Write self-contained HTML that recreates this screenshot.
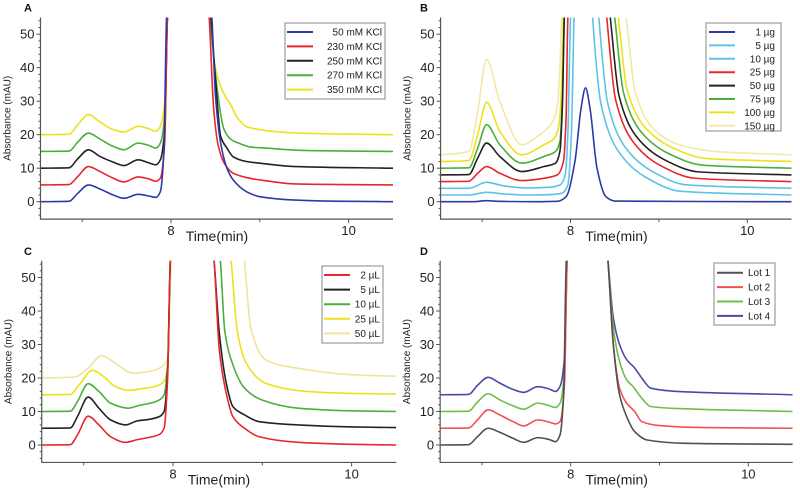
<!DOCTYPE html>
<html><head><meta charset="utf-8">
<style>
html,body{margin:0;padding:0;background:#fff;}
svg{display:block;font-family:"Liberation Sans",sans-serif;}
</style></head>
<body>
<svg id="chart" width="800" height="500" viewBox="0 0 800 500" xmlns="http://www.w3.org/2000/svg"></svg>
<script>
// ---------- Panel A ----------
const aLabels = ["50 mM KCl","230 mM KCl","250 mM KCl","270 mM KCl","350 mM KCl"];
const aColors = ["#2b3aa6","#e8262b","#222222","#4cae3c","#ece21c"];
const aTimes = [
 [6.53,6.85,6.95,7.07,7.2,7.35,7.47,7.63,7.75,7.83,7.88,7.92,7.95,8.2,8.46,8.5,8.56,8.63,8.7,8.85,9.0,9.4,10.0,10.5],
 [6.53,6.85,6.95,7.07,7.2,7.35,7.47,7.63,7.75,7.83,7.88,7.93,7.96,8.2,8.43,8.48,8.53,8.6,8.7,8.85,9.0,9.4,10.5],
 [6.53,6.85,6.95,7.07,7.2,7.35,7.47,7.63,7.75,7.83,7.88,7.93,7.96,8.2,8.45,8.5,8.56,8.63,8.7,8.85,9.0,9.4,10.5],
 [6.53,6.85,6.95,7.07,7.2,7.35,7.47,7.63,7.75,7.83,7.88,7.93,7.96,8.2,8.44,8.5,8.6,8.68,8.77,8.9,9.07,9.5,10.5],
 [6.53,6.85,6.95,7.07,7.2,7.35,7.47,7.63,7.75,7.83,7.88,7.93,7.96,8.2,8.44,8.5,8.6,8.67,8.75,8.85,9.0,9.14,9.5,10.5]
];
const aValues = [
 [0,0.1,2.5,5,3.8,2,1,2.2,1.7,1.3,3,15,55,120,55,32,17.4,10,6.5,3,1.5,0.5,0.1,0],
 [5,5.1,7.5,10.5,9,7,5.9,7.4,6.8,6.1,7,18,55,120,55,28,17,11.5,8.5,7.2,6.5,5.3,5],
 [10,10.1,12.8,15.5,13.5,11.8,10.8,12.5,11.6,11,12.5,22,55,120,55,37,19.4,16,13.4,12,11.5,10.5,10],
 [15,15.1,17.8,20.5,18.7,16.5,15.5,17.5,16.8,16,17.5,26,55,120,55,38,21.4,18.5,17.4,16.3,16,15.3,15],
 [20,20.1,23,26,23.8,21.5,20.8,22.5,21.8,21,22.5,30,55,120,55,40,32,29,25,22.4,21.5,21,20.4,20]
];
// ---------- Panel B ----------
const bLabels = ["1 µg","5 µg","10 µg","25 µg","50 µg","75 µg","100 µg","150 µg"];
const bColors = ["#2b3aa6","#5cc3e8","#5cc3e8","#e8262b","#222222","#4cae3c","#ece21c","#f3e8a8"];
const bTimes = [
 [6.53,6.9,7.05,7.2,7.6,7.85,7.95,8.05,8.12,8.17,8.22,8.3,8.4,8.5,10.5],
 [6.53,6.85,7.05,7.25,7.5,7.75,7.9,7.97,8.01,8.04,8.15,8.25,8.35,8.55,8.85,9.25,10.5],
 [6.53,6.85,7.05,7.25,7.5,7.75,7.88,7.94,7.97,8.0,8.15,8.32,8.42,8.62,8.92,9.32,10.5],
 [6.53,6.85,6.95,7.05,7.2,7.45,7.7,7.85,7.92,7.95,7.97,8.2,8.41,8.51,8.71,9.01,9.41,10.5],
 [6.53,6.85,6.95,7.05,7.2,7.45,7.7,7.83,7.88,7.91,7.93,8.2,8.45,8.55,8.75,9.05,9.45,10.5],
 [6.53,6.85,6.95,7.05,7.2,7.45,7.7,7.83,7.88,7.91,7.93,8.2,8.5,8.6,8.8,9.1,9.5,10.5],
 [6.53,6.85,6.95,7.05,7.2,7.45,7.7,7.82,7.87,7.9,7.92,8.2,8.54,8.64,8.84,9.14,9.54,10.5],
 [6.53,6.85,6.95,7.05,7.2,7.45,7.65,7.8,7.86,7.88,7.9,8.2,8.63,8.73,8.93,9.23,9.63,10.5]
];
const bValues = [
 [0,0,0.3,0.1,0,0.1,1.5,12,28,34,28,10,1.5,0.2,0],
 [2,2,2.8,2.3,2,2.1,2.5,5,20,55,120,55,28.5,14.7,7.3,3.1,2],
 [4,4,5.8,4.7,4.1,4.3,5,8,20,55,120,55,29.5,16.2,9.1,5,4],
 [6,6.1,8.5,10.5,8.5,6.3,7,8,12,25,55,120,55,30.5,17.8,10.9,7,6],
 [8,8.1,13,17.5,13.5,9,10.5,11.5,15,30,55,120,55,31.5,19.3,12.7,8.9,8],
 [10,10.1,16,23,17,11.5,13.5,15,18,32,55,120,55,32.5,20.8,14.5,10.9,10],
 [12,12.3,20,29.7,21,14,17,19,23,35,55,120,55,33.5,22.3,16.3,12.9,12],
 [14,15,27,42.5,30,17,20,24,30,40,55,120,55,33,22,17,15,14]
];
// ---------- Panel C ----------
const cLabels = ["2 µL","5 µL","10 µL","25 µL","50 µL"];
const cColors = ["#e8262b","#222222","#4cae3c","#ece21c","#efe3a0"];
const cTimes = [
 [6.53,6.85,6.93,7.05,7.17,7.3,7.47,7.6,7.72,7.85,7.9,7.94,7.97,8.2,8.46,8.52,8.6,8.67,8.8,8.96,9.4,10.0,10.5],
 [6.53,6.85,6.93,7.05,7.17,7.3,7.47,7.6,7.72,7.85,7.9,7.94,7.97,8.2,8.46,8.52,8.6,8.67,8.8,8.96,9.4,10.0,10.5],
 [6.53,6.85,6.93,7.05,7.17,7.3,7.5,7.62,7.75,7.85,7.9,7.94,7.97,8.2,8.53,8.58,8.67,8.8,9.0,9.4,10.0,10.5],
 [6.53,6.85,6.95,7.1,7.22,7.35,7.5,7.65,7.8,7.9,7.94,7.97,8.3,8.65,8.72,8.82,9.04,9.5,10.0,10.5],
 [6.53,6.9,7.05,7.2,7.35,7.55,7.75,7.88,7.94,7.98,8.4,8.8,8.87,9.04,9.4,10.0,10.5]
];
const cValues = [
 [0,0.1,3,8.6,6,2.5,0.8,1.6,2.2,3.2,5,20,55,120,55,28,15,8.5,5,2.5,0.8,0.2,0],
 [5,5.1,8.5,14.3,11,7.5,6,7.2,7.6,8.5,10,22,55,120,55,33,18,11.5,9,7,6,5.4,5.2],
 [10,10.1,13,18.3,16,12.5,11,11.8,12.5,13.5,15,24,55,120,55,34,24,17,13.4,11,10.2,10],
 [15,15.1,18,22.3,20.5,17.5,16.3,16.8,17.5,19,24,55,120,55,34,24.4,18.4,16,15.4,15.2],
 [20,20.3,23,26.7,24.5,21.5,22,23.5,26,55,120,55,35,25.4,22.9,21,20.5]
];
// ---------- Panel D ----------
const dLabels = ["Lot 1","Lot 2","Lot 3","Lot 4"];
const dColors = ["#505050","#f05050","#6cc04a","#4a4aa8"];
const dTimes = [
 [6.53,6.85,6.95,7.07,7.2,7.35,7.47,7.63,7.75,7.83,7.88,7.92,7.95,8.2,8.42,8.48,8.55,8.63,8.72,8.86,9.3,10.5],
 [6.53,6.85,6.95,7.07,7.2,7.35,7.47,7.63,7.75,7.83,7.88,7.93,7.96,8.2,8.42,8.48,8.55,8.63,8.72,8.8,9.0,9.5,10.5],
 [6.53,6.85,6.95,7.07,7.2,7.35,7.47,7.63,7.75,7.83,7.88,7.93,7.96,8.2,8.42,8.48,8.55,8.63,8.7,8.8,8.9,9.3,10.5],
 [6.53,6.85,6.95,7.07,7.2,7.35,7.47,7.63,7.75,7.83,7.88,7.93,7.96,8.2,8.42,8.48,8.55,8.63,8.72,8.8,8.9,9.2,10.5]
];
const dValues = [
 [0,0.1,2.5,5,3.8,2,0.8,2.2,1.7,1,3,15,55,120,55,30,15,8.5,4,1.5,0.5,0.2],
 [5,5.1,7.5,10.5,9,7,5.7,7.5,6.9,6.3,7,18,55,120,55,30,17,12.5,10,7,5.8,5.2,5],
 [10,10.1,12.8,15.3,13.5,11.7,10.7,12.5,11.8,11.2,12.5,22,55,120,55,35,25,19.5,17.5,14,11.5,10.8,10],
 [15,15.1,17.8,20.2,18.5,16.6,15.7,17.4,16.8,16,17.5,26,55,120,55,38,30,25.5,23,20,17,16,15]
];
const yTickLabels = ["0","10","20","30","40","50"];
const xTickLabels = ["8","10"];

const NS = "http://www.w3.org/2000/svg";
const svg = document.getElementById("chart");
function mk(tag, attrs, parent){
  const e = document.createElementNS(NS, tag);
  for (const k in attrs) e.setAttribute(k, attrs[k]);
  (parent||svg).appendChild(e);
  return e;
}
function monoPath(pts){
  const n = pts.length;
  if (n < 2) return "";
  const dx=[], m=[], t=[];
  for (let i=0;i<n-1;i++){dx[i]=pts[i+1][0]-pts[i][0]; m[i]=(pts[i+1][1]-pts[i][1])/dx[i];}
  t[0]=m[0]; t[n-1]=m[n-2];
  for (let i=1;i<n-1;i++){
    if (m[i-1]*m[i]<=0) t[i]=0;
    else { const w1=2*dx[i]+dx[i-1], w2=dx[i]+2*dx[i-1]; t[i]=(w1+w2)/(w1/m[i-1]+w2/m[i]); }
  }
  let d = "M"+pts[0][0].toFixed(2)+","+pts[0][1].toFixed(2);
  for (let i=0;i<n-1;i++){
    const h=dx[i]/3;
    d += " C"+(pts[i][0]+h).toFixed(2)+","+(pts[i][1]+t[i]*h).toFixed(2)+" "+
         (pts[i+1][0]-h).toFixed(2)+","+(pts[i+1][1]-t[i+1]*h).toFixed(2)+" "+
         pts[i+1][0].toFixed(2)+","+pts[i+1][1].toFixed(2);
  }
  return d;
}
function drawPanel(cfg){
  const g = mk("g", {});
  
  
  const xs = t => cfg.x8 + (t-8)*cfg.kx;
  const ys = v => cfg.y0 - v*cfg.ky;
  const left = xs(6.53), right = xs(10.5), top = ys(55), bottom = ys(-5.2);
  const clipId = "clip-"+cfg.letter;
  const cp = mk("clipPath", {id: clipId}, g);
  mk("rect", {x:left, y:top, width:right-left, height:bottom-top}, cp);
  const lines = mk("g", {"clip-path":"url(#"+clipId+")"}, g);
  
  
  for (let s=cfg.times.length-1; s>=0; s--){
    const pts = cfg.times[s].map((tt,i)=>[xs(tt), ys(cfg.values[s][i])]);
    const p = mk("path", {d:monoPath(pts), fill:"none", stroke:cfg.colors[s], "stroke-width":1.6, "stroke-linejoin":"round"}, lines);
    
    
  }
  const ax = mk("path", {d:"M"+left+","+top+" V"+bottom+" H"+right, fill:"none", stroke:"#555", "stroke-width":1.2}, g);
  
  
  for (let v=-4; v<=54; v+=2){
    const major = v%10===0;
    mk("line", {x1:left, x2:left-(major?4:2), y1:ys(v), y2:ys(v), stroke:"#555", "stroke-width":1}, g);
  }
  yTickLabels.forEach(lbl=>{
    const tx = mk("text", {x:left-6, y:ys(+lbl)+4.5, "text-anchor":"end", "font-size":13, fill:"#222"}, g);
    tx.textContent = lbl;
    
    
  });
  [7,8,9,10].forEach(t=>{
    mk("line", {x1:xs(t), x2:xs(t), y1:bottom, y2:bottom+(t%2===0?4:3), stroke:"#555", "stroke-width":1}, g);
  });
  xTickLabels.forEach(lbl=>{
    const tx = mk("text", {x:xs(+lbl), y:bottom+16, "text-anchor":"middle", "font-size":13, fill:"#222"}, g);
    tx.textContent = lbl;
    
    
  });
  const xt = mk("text", {x:xs(8)+46, y:bottom+22, "text-anchor":"middle", "font-size":14, fill:"#222"}, g);
  xt.textContent = "Time(min)";
  
  
  const yt = mk("text", {x:0, y:0, "text-anchor":"middle", "font-size":10, fill:"#222",
    transform:"translate("+(left-30)+","+((top+bottom)/2)+") rotate(-90)"}, g);
  yt.textContent = "Absorbance (mAU)";
  
  
  const lt = mk("text", {x:cfg.letterX, y:top-6, "font-size":11, "font-weight":"bold", fill:"#111"}, g);
  lt.textContent = cfg.letter;
  
  
  const L = cfg.legend;
  const lg = mk("g", {}, g);
  
  
  mk("rect", {x:L.x, y:L.y, width:L.w, height:L.h, fill:"#fff", stroke:"#888", "stroke-width":1}, lg);
  cfg.labels.forEach((lbl,i)=>{
    const yy = L.row0 + i*L.step;
    const e = mk("g", {}, lg);
    
    
    mk("line", {x1:L.lx1, x2:L.lx2, y1:yy, y2:yy, stroke:cfg.colors[i], "stroke-width":2}, e);
    const tx = mk("text", {x:L.tx, y:yy+3.5, "text-anchor":L.anchor, "font-size":10, fill:"#222"}, e);
    tx.textContent = lbl;
  });
}
drawPanel({name:"panel-a-kcl", letter:"A", letterX:24, x8:171, kx:88.8, y0:201.7, ky:3.35,
  labels:aLabels, colors:aColors, times:aTimes, values:aValues,
  legend:{x:285, y:23, w:100, h:76, row0:32, step:14.4, lx1:287, lx2:313, tx:382, anchor:"end"}});
drawPanel({name:"panel-b-mass", letter:"B", letterX:420, x8:570.5, kx:88.4, y0:201.7, ky:3.35,
  labels:bLabels, colors:bColors, times:bTimes, values:bValues,
  legend:{x:706, y:23, w:75, h:108, row0:32, step:13.4, lx1:709, lx2:735, tx:775, anchor:"end"}});
drawPanel({name:"panel-c-volume", letter:"C", letterX:24, x8:173, kx:89.3, y0:445, ky:3.35,
  labels:cLabels, colors:cColors, times:cTimes, values:cValues,
  legend:{x:322, y:266, w:61, h:77, row0:275, step:14.6, lx1:324, lx2:350, tx:380, anchor:"end"}});
drawPanel({name:"panel-d-lots", letter:"D", letterX:420, x8:570.7, kx:88.8, y0:445, ky:3.35,
  labels:dLabels, colors:dColors, times:dTimes, values:dValues,
  legend:{x:714, y:263, w:61, h:62, row0:272.7, step:14.4, lx1:717, lx2:743, tx:748, anchor:"start"}});
</script>
</body></html>
